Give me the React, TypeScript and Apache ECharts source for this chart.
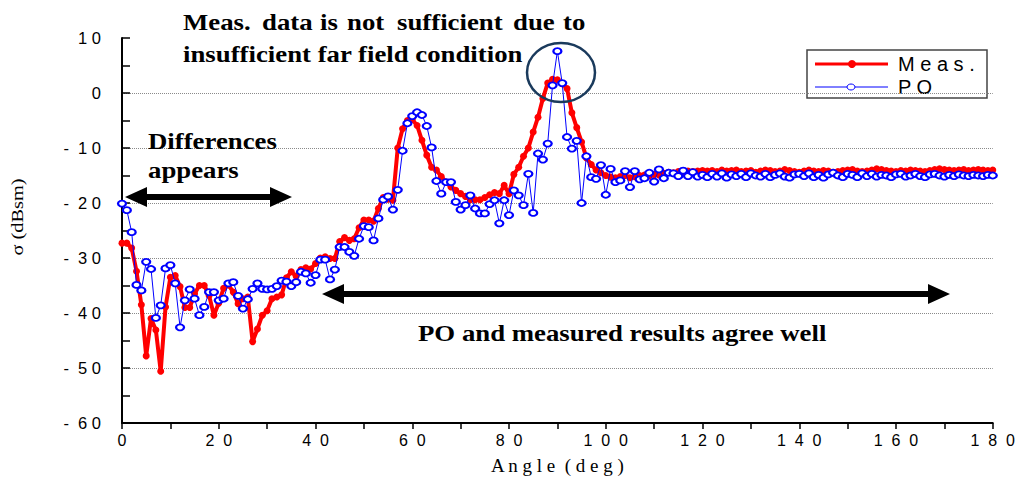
import React, { useEffect, useRef } from 'react';
import * as echarts from 'echarts';

// Sampling step of both curves (degrees)
const ANGLE_STEP = 1;

// Measured RCS (dBsm), one value per degree, 0..180
const MEAS = [
  -27.3, -27.3, -28.2, -32.4, -38.5, -47.8, -41.0, -43.1, -50.6, -38.9,
  -33.5, -33.2, -35.2, -39.0, -39.0, -36.5, -35.0, -35.0, -36.8, -40.4,
  -38.2, -35.5, -34.9, -36.2, -38.3, -37.4, -37.1, -45.2, -42.9, -40.4,
  -39.6, -37.4, -37.1, -36.7, -33.6, -32.5, -33.3, -32.1, -31.8, -32.0,
  -31.0, -30.0, -29.8, -30.1, -30.1, -27.0, -26.3, -26.8, -26.5, -24.5,
  -23.1, -23.1, -23.3, -21.0, -19.0, -19.3, -19.5, -10.0, -6.5, -5.0,
  -4.8, -5.9, -8.6, -11.3, -13.5, -14.0, -15.2, -16.2, -17.1, -17.7,
  -18.3, -18.8, -19.4, -19.4, -19.4, -19.0, -18.5, -18.1, -18.3, -16.8,
  -18.3, -14.8, -13.5, -11.5, -10.0, -7.1, -4.4, -1.0, 1.8, 2.5,
  2.4, 1.7, 0.8, -3.6, -6.3, -8.9, -11.8, -13.0, -14.0, -14.5,
  -15.0, -15.3, -15.4, -15.2, -15.0, -15.4, -15.2, -15.0, -14.9, -15.1,
  -14.8, -14.9, -14.6, -14.4, -14.5, -14.3, -14.4, -14.2, -14.3, -14.2,
  -14.1, -14.2, -14.1, -14.3, -14.0, -14.2, -14.1, -14.0, -14.3, -14.2,
  -14.1, -14.4, -14.2, -14.0, -14.1, -14.3, -14.2, -13.9, -14.1, -14.3,
  -14.4, -14.2, -14.0, -14.2, -14.3, -14.1, -14.2, -14.4, -14.3, -14.1,
  -14.0, -13.9, -14.2, -14.3, -14.2, -14.0, -13.8, -13.9, -14.1, -14.2,
  -14.3, -14.1, -14.2, -14.0, -14.1, -14.2, -14.3, -14.1, -13.9, -13.8,
  -13.9, -14.0, -14.1, -14.0, -13.9, -14.1, -14.0, -13.9, -14.0, -14.1,
  -14.0,
];

// Physical Optics prediction (dBsm), one value per degree, 0..180
const PO = [
  -20.1, -21.3, -25.3, -34.9, -35.9, -30.7, -32.0, -40.9, -38.6, -31.9,
  -31.3, -34.6, -42.6, -37.7, -35.7, -37.4, -40.4, -38.9, -36.2, -36.2,
  -37.7, -37.4, -34.6, -34.4, -36.9, -39.2, -37.5, -35.6, -34.6, -35.6,
  -35.7, -35.6, -35.1, -34.1, -34.3, -35.1, -34.4, -32.5, -32.8, -34.5,
  -33.1, -30.3, -30.3, -33.9, -32.1, -28.0, -28.0, -28.9, -29.6, -26.5,
  -24.2, -24.4, -26.8, -22.8, -19.4, -18.8, -21.2, -17.6, -10.5, -5.5,
  -4.2, -3.5, -4.0, -6.0, -9.9, -16.0, -18.3, -16.2, -16.2, -19.8,
  -21.2, -20.4, -18.6, -21.0, -21.9, -21.9, -20.2, -19.5, -23.7, -19.5,
  -22.2, -17.7, -18.6, -20.4, -14.7, -21.8, -11.0, -12.1, -9.2, 1.4,
  7.6, 1.8, -8.0, -10.1, -8.7, -20.0, -11.5, -15.3, -15.6, -13.1,
  -18.5, -13.8, -16.2, -15.9, -14.2, -17.1, -14.2, -15.7, -15.5, -14.5,
  -16.1, -13.9, -15.5, -14.5, -14.6, -15.1, -14.1, -15.1, -14.4, -15.2,
  -14.9, -15.3, -14.7, -15.2, -14.6, -15.4, -14.8, -15.1, -14.7, -15.3,
  -14.6, -15.0, -15.2, -14.7, -15.3, -14.9, -14.6, -15.2, -15.4, -14.8,
  -14.7, -15.1, -14.6, -15.3, -14.9, -15.4, -14.8, -14.5, -15.0, -15.3,
  -14.7, -14.9, -15.3, -14.6, -15.1, -14.7, -15.2, -14.9, -15.0, -15.3,
  -14.8, -14.7, -15.2, -15.0, -14.7, -15.1, -15.3, -14.8, -14.7, -15.0,
  -15.2, -14.9, -15.1, -14.8, -15.0, -15.1, -14.9, -15.0, -15.1, -14.9,
  -15.0,
];

const SERIES_NAMES = ['Meas.', 'PO'];
const X_RANGE = [0, 180];
const Y_RANGE = [-60, 10];

const spacedY = (v: number) =>
  (v < 0 ? '-  ' : '') + String(Math.abs(v)).split('').join(' ');
const spacedX = (v: number) => String(v).split('').join('  ');

const SERIF = '"Liberation Serif", "Times New Roman", serif';
const SANS = '"Liberation Sans", Arial, sans-serif';

function dblArrow(x1: number, x2: number, y: number, head = 22, hh = 10, t = 3) {
  return {
    type: 'polygon',
    z: 100,
    shape: {
      points: [
        [x1, y], [x1 + head, y - hh], [x1 + head, y - t], [x2 - head, y - t], [x2 - head, y - hh],
        [x2, y], [x2 - head, y + hh], [x2 - head, y + t], [x1 + head, y + t], [x1 + head, y + hh],
      ],
    },
    style: { fill: '#000' },
  };
}

function boldText(text: string, x: number, y: number) {
  return {
    type: 'text',
    z: 100,
    x,
    y,
    scaleX: 1.14,
    style: {
      text,
      fontFamily: SERIF,
      fontWeight: 'bold',
      fontSize: 23.5,
      fill: '#000',
      textAlign: 'left',
      textVerticalAlign: 'middle',
    },
  };
}

export default function App() {
  const ref = useRef<HTMLDivElement>(null);

  useEffect(() => {
    if (!ref.current) return;
    const chart = echarts.init(ref.current, null, { renderer: 'svg' });
    const toPairs = (arr: number[]) => arr.map((v, i) => [i * ANGLE_STEP, v]);

    const line1Words: [string, number][] = [
      ['Meas.', 183], ['data', 262], ['is', 320], ['not', 347],
      ['sufficient', 397], ['due', 513], ['to', 563],
    ];

    chart.setOption({
      animation: false,
      backgroundColor: '#fff',
      grid: { left: 122, right: 21, top: 38, bottom: 58 },
      xAxis: {
        type: 'value',
        min: X_RANGE[0],
        max: X_RANGE[1],
        interval: 20,
        axisLine: { onZero: false, lineStyle: { color: '#000', width: 2 } },
        axisTick: { length: 6, lineStyle: { color: '#000', width: 1.5 } },
        minorTick: { show: true, splitNumber: 2, length: 6, lineStyle: { color: '#000', width: 1.5 } },
        splitLine: { show: false },
        axisLabel: { formatter: spacedX, color: '#000', fontSize: 16, fontFamily: SANS, margin: 9 },
        name: 'A n g l e  ( d e g )',
        nameLocation: 'middle',
        nameGap: 33,
        nameTextStyle: { color: '#000', fontSize: 19, fontFamily: SERIF },
      },
      yAxis: {
        type: 'value',
        min: Y_RANGE[0],
        max: Y_RANGE[1],
        interval: 10,
        axisLine: { lineStyle: { color: '#000', width: 2 } },
        axisTick: { inside: true, length: 8, lineStyle: { color: '#000', width: 1.5 } },
        minorTick: { show: true, splitNumber: 2, length: 8, lineStyle: { color: '#000', width: 1.5 } },
        splitLine: {
          show: true,
          showMaxLine: false,
          lineStyle: { type: 'dotted', color: '#8a8a8a', width: 1 },
        },
        axisLabel: { formatter: spacedY, color: '#000', fontSize: 16.5, fontFamily: SANS, margin: 21 },
      },
      series: [
        {
          type: 'line',
          name: SERIES_NAMES[0],
          data: toPairs(MEAS),
          symbol: 'circle',
          symbolSize: 7,
          showAllSymbol: true,
          lineStyle: { color: '#ff0000', width: 4 },
          itemStyle: { color: '#ff0000' },
          z: 2,
        },
        {
          type: 'line',
          name: SERIES_NAMES[1],
          data: toPairs(PO),
          symbol: 'emptyCircle',
          symbolSize: [8, 6],
          showAllSymbol: true,
          lineStyle: { color: '#0000ff', width: 1 },
          itemStyle: { color: '#0000ff', borderColor: '#0000ff', borderWidth: 1.2 },
          z: 3,
        },
      ],
      graphic: [
        // y axis title
        {
          type: 'text',
          x: 17,
          y: 217,
          rotation: Math.PI / 2,
          scaleX: 1.2,
          style: {
            text: 'σ (dBsm)',
            fontFamily: SERIF,
            fontSize: 17,
            fill: '#000',
            textAlign: 'center',
            textVerticalAlign: 'middle',
          },
        },
        // top annotation
        ...line1Words.map(([w, x]) => boldText(w, x, 22)),
        boldText('insufficient far field condition', 183, 54),
        {
          type: 'ellipse',
          z: 100,
          shape: { cx: 561, cy: 72.5, rx: 34, ry: 29.5 },
          style: { fill: 'none', stroke: '#1a3a5c', lineWidth: 2.5 },
        },
        // left annotation
        boldText('Differences', 148, 141),
        boldText('appears', 148, 170),
        dblArrow(125, 292, 197, 22, 10, 3),
        // bottom annotation
        dblArrow(322, 950, 294, 22, 10, 3),
        boldText('PO and measured results agree well', 418, 333),
        // legend
        {
          type: 'group',
          z: 110,
          children: [
            {
              type: 'rect',
              shape: { x: 807, y: 50, width: 180, height: 48 },
              style: { fill: '#fff', stroke: '#444', lineWidth: 1.5 },
            },
            { type: 'line', shape: { x1: 815, y1: 64, x2: 888, y2: 64 }, style: { stroke: '#ff0000', lineWidth: 3 } },
            { type: 'circle', shape: { cx: 852, cy: 64, r: 4 }, style: { fill: '#ff0000' } },
            { type: 'line', shape: { x1: 815, y1: 87, x2: 888, y2: 87 }, style: { stroke: '#0000ff', lineWidth: 1 } },
            {
              type: 'ellipse',
              shape: { cx: 851, cy: 87, rx: 4, ry: 3 },
              style: { fill: '#fff', stroke: '#0000ff', lineWidth: 1 },
            },
            {
              type: 'text',
              x: 898,
              y: 64,
              style: {
                text: 'M e a s .',
                fontFamily: SANS,
                fontSize: 20,
                fill: '#000',
                textAlign: 'left',
                textVerticalAlign: 'middle',
              },
            },
            {
              type: 'text',
              x: 898,
              y: 87,
              style: {
                text: 'P O',
                fontFamily: SANS,
                fontSize: 20,
                fill: '#000',
                textAlign: 'left',
                textVerticalAlign: 'middle',
              },
            },
          ],
        },
      ],
    });

    return () => chart.dispose();
  }, []);

  return (
    <div
      ref={ref}
      style={{ position: 'fixed', left: 0, top: 0, width: 1018, height: 481 }}
    />
  );
}
